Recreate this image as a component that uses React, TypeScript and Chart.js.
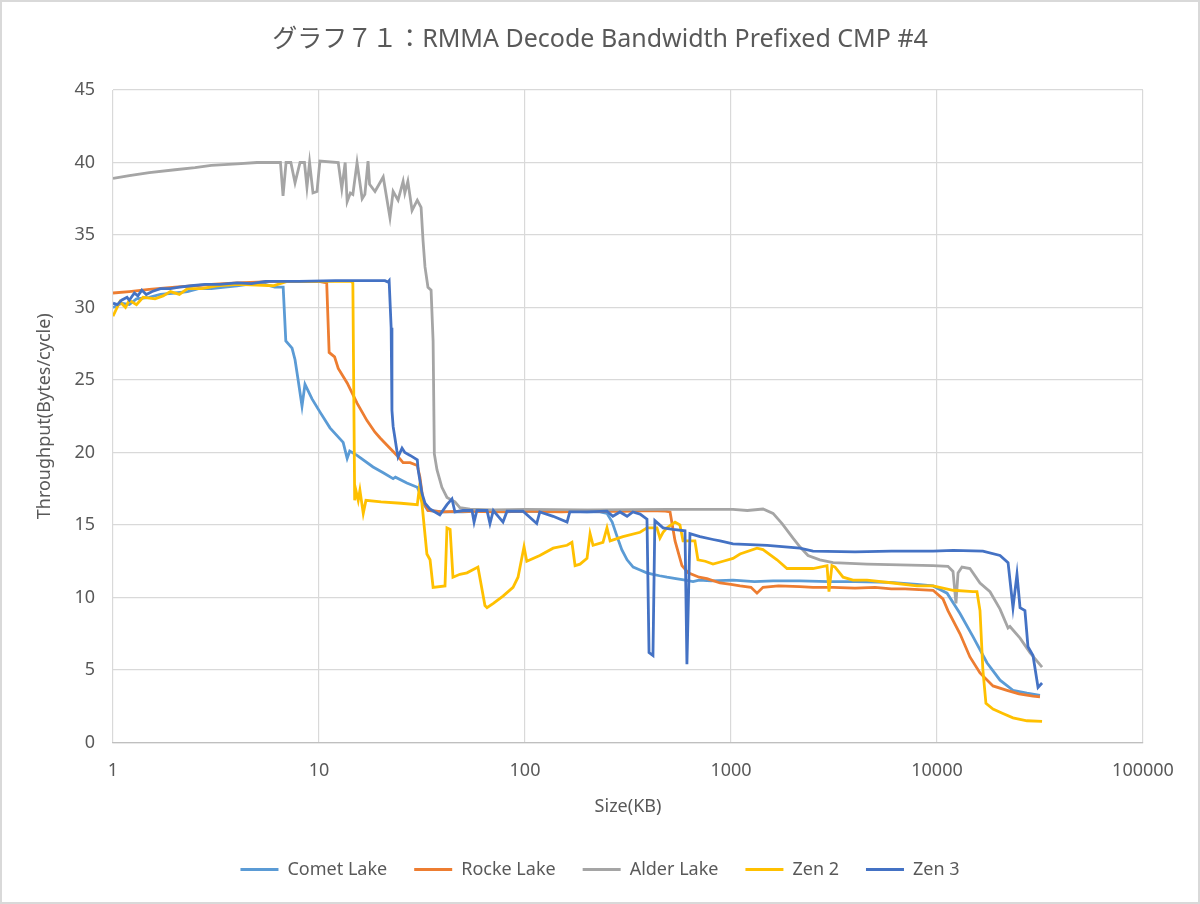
import React, { useEffect, useRef } from "react";
import { Chart, registerables } from "chart.js";

Chart.register(...registerables);

const TITLE = "グラフ７１：RMMA Decode Bandwidth Prefixed CMP #4";
const X_TITLE = "Size(KB)";
const Y_TITLE = "Throughput(Bytes/cycle)";
const X_TICKS = [1, 10, 100, 1000, 10000, 100000];
const Y_MIN = 0;
const Y_MAX = 45;
const Y_STEP = 5;

const SERIES_NAMES = ["Comet Lake", "Rocke Lake", "Alder Lake", "Zen 2", "Zen 3"];
const SERIES_COLORS = ["#5B9BD5", "#ED7D31", "#A5A5A5", "#FFC000", "#4472C4"];

// [size KB, throughput bytes/cycle]
const cometLake: [number, number][] = [
  [1, 30.0], [1.1, 30.3], [1.2, 30.2], [1.3, 30.6], [1.5, 30.7], [1.7, 30.9], [2, 31.0], [2.3, 31.1],
  [2.6, 31.3], [3, 31.3], [3.5, 31.4], [4, 31.5], [4.5, 31.6], [5, 31.6], [5.5, 31.6], [6.1, 31.4],
  [6.7, 31.4], [6.9, 27.7], [7.4, 27.2], [7.65, 26.4], [7.9, 25.1], [8.27, 23.2], [8.55, 24.7],
  [9.25, 23.7], [10.1, 22.8], [11.3, 21.7], [13.1, 20.7], [13.7, 19.6], [14.1, 20.1], [15.3, 19.8],
  [18.3, 19.0], [20.5, 18.6], [22.9, 18.2], [23.5, 18.3], [26.7, 17.9], [30, 17.6], [30.9, 17.2],
  [32, 16.5], [33.8, 16.0], [40, 15.9], [50, 15.9], [60, 15.95], [80, 15.9], [100, 15.95], [130, 15.9],
  [160, 15.95], [200, 15.9], [231, 15.9], [250, 15.8], [265, 15.2], [280, 14.2], [295, 13.3],
  [313, 12.6], [335, 12.1], [362, 11.9], [390, 11.7], [418, 11.6], [450, 11.5], [489, 11.4],
  [540, 11.3], [600, 11.2], [654, 11.1], [700, 11.2], [800, 11.15], [1023, 11.2], [1300, 11.1],
  [1600, 11.15], [2160, 11.15], [3000, 11.1], [4000, 11.1], [5915, 11.05], [7990, 10.9], [9570, 10.8],
  [11190, 10.3], [12930, 8.9], [14950, 7.3], [17480, 5.5], [20230, 4.3], [23380, 3.6], [27340, 3.4],
  [31620, 3.25],
];

const rockeLake: [number, number][] = [
  [1, 31.0], [1.2, 31.1], [1.5, 31.25], [2, 31.4], [2.5, 31.5], [3, 31.6], [4, 31.7], [5, 31.75],
  [6, 31.8], [8, 31.8], [10, 31.8], [10.9, 31.7], [11.2, 26.9], [11.9, 26.6], [12.4, 25.8],
  [13.7, 24.8], [15.3, 23.4], [17.1, 22.2], [18.7, 21.4], [19.8, 21.0], [21.4, 20.5], [23.9, 19.8],
  [25.6, 19.3], [27.7, 19.3], [30, 19.1], [30.9, 18.3], [32, 16.7], [33.8, 16.0], [40, 15.9],
  [50, 15.95], [70, 15.9], [100, 15.95], [150, 15.9], [200, 15.95], [300, 15.95], [400, 16.0],
  [480, 15.95], [506, 15.9], [535, 13.9], [578, 12.2], [620, 11.7], [700, 11.4], [764, 11.3],
  [885, 11.0], [1000, 10.9], [1106, 10.8], [1250, 10.7], [1337, 10.3], [1430, 10.7], [1700, 10.8],
  [2160, 10.75], [2500, 10.7], [3130, 10.7], [4000, 10.65], [5000, 10.7], [6000, 10.6], [7000, 10.6],
  [9570, 10.5], [10690, 9.9], [11300, 9.1], [12930, 7.5], [14450, 5.9], [16170, 4.8], [18700, 3.9],
  [21870, 3.6], [25000, 3.35], [29240, 3.2], [31620, 3.15],
];

const alderLake: [number, number][] = [
  [1, 38.9], [1.2, 39.1], [1.5, 39.3], [2, 39.5], [2.5, 39.65], [3, 39.8], [4, 39.9], [5, 40.0],
  [5.91, 40.0], [6.5, 40.0], [6.69, 37.7], [6.92, 40.0], [7.3, 40.0], [7.65, 38.6], [8.09, 40.0],
  [8.5, 40.0], [8.74, 38.3], [9.0, 40.0], [9.35, 37.9], [9.78, 38.0], [10.1, 40.1], [12.4, 40.0],
  [12.9, 38.2], [13.4, 40.0], [13.7, 37.3], [14.2, 37.9], [14.6, 37.8], [15.3, 40.0], [16.2, 37.5],
  [16.7, 37.8], [17.3, 40.1], [17.6, 38.5], [18.7, 38.0], [20.5, 39.0], [22.1, 36.2], [22.9, 38.0],
  [24.2, 37.4], [25.6, 38.7], [26.1, 37.9], [27.0, 38.7], [28.3, 36.7], [30, 37.4], [31.3, 36.9],
  [32.0, 34.6], [32.7, 32.8], [33.8, 31.4], [35.0, 31.2], [35.8, 27.7], [36.3, 19.9], [37.4, 18.8],
  [39.5, 17.6], [41.8, 16.9], [45.7, 16.6], [48.3, 16.2], [54.1, 16.1], [70, 16.05], [100, 16.08],
  [200, 16.05], [500, 16.08], [1023, 16.08], [1200, 16.0], [1430, 16.1], [1600, 15.8], [1770, 15.1],
  [2000, 14.1], [2160, 13.5], [2365, 12.9], [2700, 12.6], [3130, 12.4], [4575, 12.3], [9570, 12.2],
  [11300, 12.15], [11960, 11.8], [12360, 9.6], [12650, 11.7], [13220, 12.1], [14450, 12.0],
  [16170, 11.0], [18080, 10.4], [20230, 9.2], [22130, 7.9], [22600, 8.0], [25300, 7.2], [28260, 6.2],
  [32360, 5.2],
];

const zen2: [number, number][] = [
  [1, 29.4], [1.08, 30.4], [1.15, 30.0], [1.2, 30.5], [1.3, 30.2], [1.4, 30.7], [1.6, 30.6],
  [1.75, 30.8], [1.9, 31.1], [2.1, 30.9], [2.3, 31.3], [2.7, 31.3], [3.2, 31.5], [4, 31.6], [5, 31.55],
  [6, 31.5], [7, 31.8], [10, 31.8], [14.3, 31.8], [14.6, 31.7], [14.9, 16.7], [15.1, 17.4], [15.5, 16.7],
  [15.8, 17.4], [16.4, 15.8], [16.9, 16.7], [20, 16.6], [25, 16.5], [30, 16.4], [30.6, 17.4],
  [31.6, 16.5], [33.4, 13.0], [34.6, 12.6], [35.8, 10.7], [40.9, 10.8], [41.8, 14.8], [43.3, 14.7],
  [44.7, 11.4], [48.3, 11.6], [52.3, 11.7], [59.1, 12.1], [63.9, 9.45], [65.4, 9.3], [70.2, 9.6],
  [78.2, 10.1], [87.5, 10.7], [92.5, 11.4], [98.9, 13.5], [102, 12.5], [118, 12.9], [137, 13.4],
  [160, 13.6], [169, 13.8], [175, 12.2], [185, 12.3], [200, 12.7], [207, 14.4], [214, 13.6],
  [239, 13.8], [250, 14.8], [259, 13.9], [299, 14.2], [362, 14.5], [391, 14.8], [418, 14.8],
  [437, 14.8], [452, 14.1], [468, 14.5], [489, 14.8], [535, 15.2], [565, 15.0], [585, 13.9],
  [668, 13.9], [691, 12.6], [750, 12.5], [818, 12.3], [915, 12.5], [1023, 12.7], [1106, 13.0],
  [1337, 13.4], [1430, 13.3], [1672, 12.6], [1870, 12.0], [2160, 12.0], [2500, 12.0], [2925, 12.2],
  [2990, 10.4], [3090, 12.2], [3200, 12.1], [3500, 11.4], [3910, 11.2], [4575, 11.2], [6110, 11.0],
  [7990, 10.8], [9570, 10.8], [11960, 10.5], [14950, 10.4], [15630, 10.4], [16170, 9.1], [16700, 5.0],
  [17280, 2.7], [18700, 2.3], [20890, 2.0], [23380, 1.7], [27340, 1.5], [32360, 1.45],
];

const zen3: [number, number][] = [
  [1, 30.3], [1.05, 30.2], [1.1, 30.5], [1.17, 30.7], [1.2, 30.5], [1.27, 31.0], [1.32, 30.8],
  [1.38, 31.2], [1.45, 30.9], [1.55, 31.1], [1.7, 31.3], [1.9, 31.3], [2.1, 31.4], [2.4, 31.5],
  [2.8, 31.6], [3.3, 31.6], [4, 31.7], [4.7, 31.65], [5.5, 31.8], [8, 31.8], [12, 31.85], [16, 31.85],
  [20.9, 31.85], [21.6, 31.75], [21.9, 31.85], [22.4, 28.6], [22.6, 22.9], [22.9, 21.8], [23.9, 20.1],
  [24.2, 19.7], [25.3, 20.3], [26.1, 20.0], [27.7, 19.8], [30, 19.5], [30.3, 18.8], [31.6, 17.2],
  [32.7, 16.5], [34.6, 16.1], [38.6, 15.7], [41.8, 16.4], [44.2, 16.8], [45.7, 15.9], [50, 16.0],
  [55.3, 16.0], [56.6, 15.2], [58.4, 16.0], [65.4, 16.0], [67.6, 15.1], [70.2, 16.0], [78.2, 15.2],
  [81.8, 15.95], [97.8, 15.95], [114, 15.1], [118, 15.9], [137, 15.6], [160, 15.2], [165, 15.9],
  [200, 15.9], [250, 15.95], [267, 15.6], [289, 15.9], [313, 15.6], [334, 15.9], [362, 15.75],
  [391, 15.4], [400, 6.2], [418, 6.0], [427, 15.3], [468, 14.8], [523, 14.7], [598, 14.6], [611, 5.4],
  [632, 14.4], [707, 14.2], [818, 14.0], [885, 13.9], [1023, 13.7], [1500, 13.6], [2160, 13.4],
  [2500, 13.2], [4000, 13.15], [6000, 13.2], [9570, 13.2], [12000, 13.25], [16700, 13.2],
  [20230, 12.9], [22130, 12.4], [23380, 9.3], [24450, 11.6], [25300, 9.3], [26720, 9.1],
  [27650, 6.6], [29240, 6.0], [30940, 3.8], [32360, 4.1],
];

const SERIES_DATA = [cometLake, rockeLake, alderLake, zen2, zen3];

const FONT_FAMILY = "'Noto Sans', 'Noto Sans CJK JP', sans-serif";
const TEXT_COLOR = "#595959";
const GRID_COLOR = "#D9D9D9";

const framePlugin = {
  id: "frame",
  beforeDraw(chart: any) {
    const { ctx, width, height } = chart;
    ctx.save();
    ctx.fillStyle = "#ffffff";
    ctx.fillRect(0, 0, width, height);
    ctx.strokeStyle = "#D9D9D9";
    ctx.lineWidth = 2;
    ctx.strokeRect(1, 1, width - 2, height - 2);
    ctx.restore();
  },
};

export default function App() {
  const canvasRef = useRef<HTMLCanvasElement | null>(null);

  useEffect(() => {
    document.body.style.margin = "0";
    const canvas = canvasRef.current;
    if (!canvas) return;

    const datasets = SERIES_NAMES.map((name, i) => ({
      label: name,
      data: SERIES_DATA[i].map(([x, y]) => ({ x, y })),
      borderColor: SERIES_COLORS[i],
      backgroundColor: SERIES_COLORS[i],
      borderWidth: 2.8,
      pointRadius: 0,
      pointHoverRadius: 0,
      tension: 0,
      fill: false,
      order: SERIES_NAMES.length - i,
    }));

    const chart = new Chart(canvas, {
      type: "line",
      data: { datasets },
      plugins: [framePlugin],
      options: {
        responsive: false,
        animation: false,
        devicePixelRatio: 1,
        layout: { padding: { left: 57, right: 57, top: 0, bottom: 15.5 } },
        plugins: {
          tooltip: { enabled: false },
          title: {
            display: true,
            text: TITLE,
            color: TEXT_COLOR,
            font: { family: FONT_FAMILY, size: 25, weight: "normal", lineHeight: 1.2 },
            padding: { top: 25, bottom: 35 },
          },
          legend: {
            position: "bottom",
            labels: {
              color: TEXT_COLOR,
              font: { family: FONT_FAMILY, size: 18 },
              boxWidth: 38,
              boxHeight: 3,
              padding: 27,
              sort: (a: any, b: any) => a.datasetIndex - b.datasetIndex,
              generateLabels: (chart: any) =>
                (Chart.defaults.plugins.legend.labels.generateLabels as any)(chart).map((l: any) => ({
                  ...l,
                  lineWidth: 0,
                })),
            },
          },
        },
        scales: {
          x: {
            type: "logarithmic",
            min: X_TICKS[0],
            max: X_TICKS[X_TICKS.length - 1],
            afterBuildTicks: (axis: any) => {
              axis.ticks = X_TICKS.map((v) => ({ value: v }));
            },
            afterFit: (axis: any) => {
              axis.height = 91;
            },
            grid: { color: GRID_COLOR, lineWidth: 1.2, drawTicks: false },
            border: { display: true, color: "#BFBFBF", width: 1.2 },
            ticks: {
              autoSkip: false,
              maxRotation: 0,
              padding: 18,
              color: TEXT_COLOR,
              font: { family: FONT_FAMILY, size: 18 },
              callback: (v: any) => String(v),
            },
            title: {
              display: true,
              text: X_TITLE,
              color: TEXT_COLOR,
              font: { family: FONT_FAMILY, size: 18, lineHeight: 1.2 },
              padding: { top: 0, bottom: 16.2 },
            },
          },
          y: {
            type: "linear",
            min: Y_MIN,
            max: Y_MAX,
            afterFit: (axis: any) => {
              axis.width = 56;
            },
            grid: { color: GRID_COLOR, lineWidth: 1.2, drawTicks: false },
            border: { display: false },
            ticks: {
              stepSize: Y_STEP,
              padding: 18,
              color: TEXT_COLOR,
              font: { family: FONT_FAMILY, size: 18 },
            },
            title: {
              display: true,
              text: Y_TITLE,
              color: TEXT_COLOR,
              font: { family: FONT_FAMILY, size: 18, lineHeight: 1.2 },
              padding: { top: -22.8, bottom: 0 },
            },
          },
        },
      },
    } as any);

    return () => {
      chart.destroy();
    };
  }, []);

  return (
    <div style={{ width: 1200, height: 904 }}>
      <canvas ref={canvasRef} width={1200} height={904} style={{ width: 1200, height: 904, display: "block" }} />
    </div>
  );
}
